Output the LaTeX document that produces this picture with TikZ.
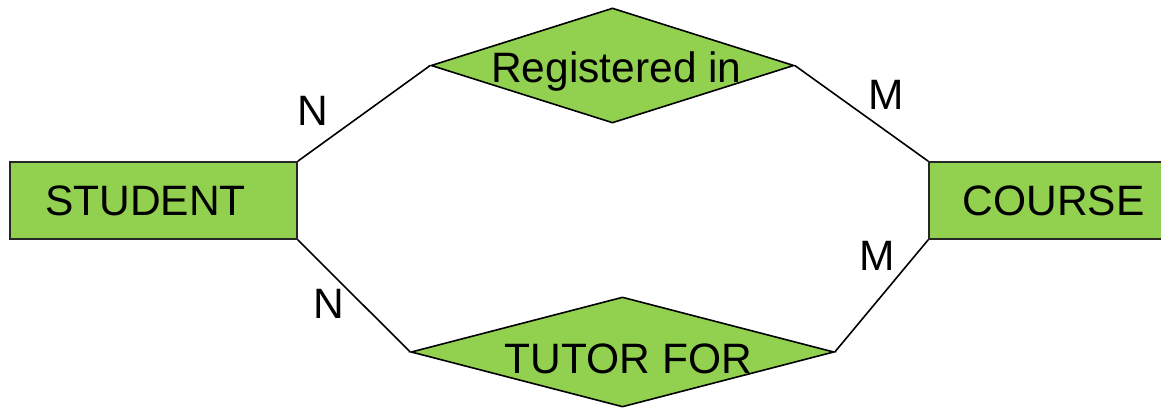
\documentclass[tikz,border=0pt]{standalone}
\usepackage{fontspec}
\setmainfont{Liberation Sans}
\usetikzlibrary{shapes.geometric}
\definecolor{boxgreen}{RGB}{146,208,80}
\tikzset{
  entity/.style={draw=black!85, line width=1.6pt, fill=boxgreen, rectangle, inner sep=0pt},
  relation/.style={draw=black, line width=1.6pt, fill=boxgreen, diamond, inner sep=0pt},
  lbl/.style={anchor=base, inner sep=0pt, font=\fontsize{42.5}{46}\selectfont},
  conn/.style={draw=black, line width=1.6pt},
}
\begin{document}
\begin{tikzpicture}[x=1pt,y=-1pt]
\useasboundingbox (0,0) rectangle (1161,409);
\clip (0,0) rectangle (1161,409);
\node[entity, minimum width=287pt, minimum height=77pt] (student) at (153.5,200.5) {};
\node[entity, minimum width=250pt, minimum height=77pt] (course) at (1054,200.5) {};
\node[relation, minimum width=363pt, minimum height=115pt] (reg) at (612.5,65.5) {};
\node[relation, minimum width=423pt, minimum height=110pt] (tut) at (622.5,352) {};
\node[lbl] (tstudent) at (145.5,215) {STUDENT};
\node[lbl] (tcourse) at (1053.5,215) {COURSE};
\node[lbl] (treg) at (616.5,83) {Registered in};
\node[lbl] (ttut) at (628.5,373) {TUTOR FOR};
\draw[conn] (student.north east) -- (reg.west);
\draw[conn] (reg.east) -- (course.north west);
\draw[conn] (student.south east) -- (tut.west);
\draw[conn] (tut.east) -- (course.south west);
\node[lbl] (n1) at (312.5,125) {N};
\node[lbl] (m1) at (886,110) {M};
\node[lbl] (n2) at (329,318) {N};
\node[lbl] (m2) at (877,270) {M};
\end{tikzpicture}
\end{document}
